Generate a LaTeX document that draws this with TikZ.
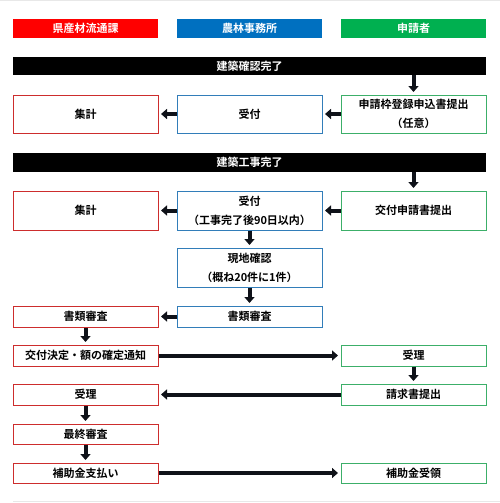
\documentclass[tikz,border=0pt]{standalone}
\usepackage{fontspec}
\setmainfont{Noto Sans CJK JP}[BoldFont={* Bold}]
\usetikzlibrary{arrows.meta}
\definecolor{hred}{RGB}{255,0,0}
\definecolor{hblue}{RGB}{0,112,192}
\definecolor{hgreen}{RGB}{0,176,80}
\definecolor{bred}{RGB}{205,45,45}
\definecolor{bblue}{RGB}{50,125,185}
\definecolor{bgreen}{RGB}{60,175,105}
\definecolor{arrcol}{RGB}{15,18,25}
\tikzset{
  base/.style={rectangle, minimum width=145pt, inner sep=0pt, align=center,
    font=\fontsize{11}{19}\selectfont\bfseries},
  head/.style={base, minimum height=19pt, text=white, fill=#1},
  bar/.style={base, minimum width=473pt, minimum height=18.5pt, fill=black, text=white},
  rbox/.style={base, draw=bred, line width=1pt, fill=white, minimum height=#1},
  bbox/.style={base, draw=bblue, line width=1pt, fill=white, minimum height=#1},
  gbox/.style={base, draw=bgreen, line width=1pt, fill=white, minimum height=#1},
  arr/.style={draw=arrcol, line width=4pt, -{Triangle[width=10pt,length=6pt]}, shorten >=2.5pt},
  faint/.style={draw=gray!18, line width=1pt}
}
\begin{document}
\begin{tikzpicture}[x=1pt,y=-1pt]
\useasboundingbox (0,0) rectangle (500,503);
\draw[faint] (0,0.5) -- (500,0.5);
\draw[faint] (13,501.5) -- (500,501.5);
% headers
\node[head=hred] (h1) at (85.5,28.5) {県産材流通課};
\node[head=hblue] (h2) at (249.5,28.5) {農林事務所};
\node[head=hgreen] (h3) at (413.5,28.5) {申請者};
% bar 1
\node[bar] (bar1) at (249.5,66) {建築確認完了};
% row 1
\node[rbox=38pt] (r1) at (85.5,114) {集計};
\node[bbox=38pt] (b1) at (249.5,114) {受付};
\node[gbox=38pt] (g1) at (413.5,114) {申請枠登録申込書提出\\（任意）};
% bar 2
\node[bar] (bar2) at (249.5,162.5) {建築工事完了};
% row 2
\node[rbox=39pt] (r2) at (85.5,210.5) {集計};
\node[bbox=39pt] (b2) at (249.5,210.5) {受付\\（工事完了後90日以内）};
\node[gbox=39pt] (g2) at (413.5,210.5) {交付申請書提出};
% genchi
\node[bbox=39pt] (b3) at (249.5,267.5) {現地確認\\（概ね20件に1件）};
% shorui
\node[rbox=21pt] (r3) at (85.5,316.5) {書類審査};
\node[bbox=21pt] (b4) at (249.5,316.5) {書類審査};
% kofu
\node[rbox=21pt] (r4) at (85.5,355.5) {交付決定・額の確定通知};
\node[gbox=21pt] (g3) at (413.5,355.5) {受理};
% seikyu
\node[rbox=21pt] (r5) at (85.5,394.5) {受理};
\node[gbox=21pt] (g4) at (413.5,394.5) {請求書提出};
% saishu
\node[rbox=20pt] (r6) at (85.5,434) {最終審査};
% shiharai
\node[rbox=20pt] (r7) at (85.5,473) {補助金支払い};
\node[gbox=20pt] (g5) at (413.5,473) {補助金受領};
% arrows
\draw[arr] (bar1.south -| g1.north) -- (g1.north);
\draw[arr] (g1.west) -- (b1.east);
\draw[arr] (b1.west) -- (r1.east);
\draw[arr] (bar2.south -| g2.north) -- (g2.north);
\draw[arr] (g2.west) -- (b2.east);
\draw[arr] (b2.west) -- (r2.east);
\draw[arr] (b2.south) -- (b3.north);
\draw[arr] (b3.south) -- (b4.north);
\draw[arr] (b4.west) -- (r3.east);
\draw[arr] (r3.south) -- (r4.north);
\draw[arr] (r4.east) -- (g3.west);
\draw[arr] (g3.south) -- (g4.north);
\draw[arr] (g4.west) -- (r5.east);
\draw[arr] (r5.south) -- (r6.north);
\draw[arr] (r6.south) -- (r7.north);
\draw[arr] (r7.east) -- (g5.west);
\end{tikzpicture}
\end{document}
